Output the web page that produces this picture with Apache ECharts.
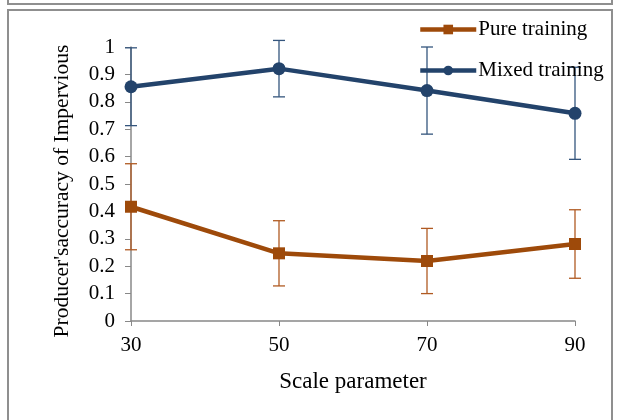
<!DOCTYPE html>
<html>
<head>
<meta charset="utf-8">
<script src="https://cdn.jsdelivr.net/npm/echarts@6/dist/echarts.min.js"></script>
<style>html,body{margin:0;padding:0;background:#fff;}#c{width:619px;height:420px;}</style>
</head>
<body>
<div id="c"></div>
<script>
const categories = ['30', '50', '70', '90'];
const pureValues = [0.417, 0.247, 0.219, 0.281];
const pureErrors = [0.157, 0.119, 0.119, 0.125];
const mixedValues = [0.855, 0.921, 0.841, 0.758];
const mixedErrors = [0.142, 0.103, 0.159, 0.168];
const yTicks = { min: 0, max: 1, interval: 0.1 };

const PURE = '#9E4A0A';
const MIXED = '#23436B';
const FONT = 'Liberation Serif';

function errData(vals, errs) {
  return vals.map((v, i) => [i, v - errs[i], v + errs[i]]);
}
function errRender(color) {
  return function (params, api) {
    const x = api.value(0);
    const lo = api.coord([x, api.value(1)]);
    const hi = api.coord([x, api.value(2)]);
    const hw = 6;
    const style = { stroke: color, lineWidth: 1.3 };
    return {
      type: 'group',
      children: [
        { type: 'line', shape: { x1: lo[0], y1: lo[1], x2: hi[0], y2: hi[1] }, style },
        { type: 'line', shape: { x1: lo[0] - hw, y1: lo[1], x2: lo[0] + hw, y2: lo[1] }, style },
        { type: 'line', shape: { x1: hi[0] - hw, y1: hi[1], x2: hi[0] + hw, y2: hi[1] }, style }
      ]
    };
  };
}

const chart = echarts.init(document.getElementById('c'));
chart.setOption({
  animation: false,
  backgroundColor: '#fff',
  graphic: [
    { type: 'rect', shape: { x: 8, y: -10, width: 604, height: 14 }, style: { fill: 'none', stroke: '#8f8f8f', lineWidth: 2 }, silent: true },
    { type: 'rect', shape: { x: 8, y: 10, width: 604, height: 420 }, style: { fill: 'none', stroke: '#8f8f8f', lineWidth: 2 }, silent: true }
  ],
  grid: { left: 131, right: 44, top: 47, bottom: 99 },
  legend: {
    orient: 'vertical',
    left: 418,
    top: 19,
    padding: 0,
    itemWidth: 56,
    itemHeight: 12,
    itemGap: 20,
    lineStyle: { width: 4.5 },
    textStyle: { fontFamily: FONT, fontSize: 21, color: '#000', padding: [0, 0, 0, -3] },
    data: ['Pure training', 'Mixed training']
  },
  xAxis: {
    type: 'category',
    data: categories,
    boundaryGap: false,
    name: 'Scale parameter',
    nameLocation: 'middle',
    nameGap: 49,
    nameTextStyle: { fontFamily: FONT, fontSize: 23, color: '#000' },
    axisLine: { lineStyle: { color: '#888', width: 1.5 } },
    axisTick: { show: true, length: 5, lineStyle: { color: '#888' }, alignWithLabel: true },
    axisLabel: { fontFamily: FONT, fontSize: 21, color: '#000', margin: 14 },
    splitLine: { show: false }
  },
  yAxis: {
    type: 'value',
    min: yTicks.min,
    max: yTicks.max,
    interval: yTicks.interval,
    name: "Producer'saccuracy of Impervious",
    nameLocation: 'middle',
    nameGap: 58,
    nameTextStyle: { fontFamily: FONT, fontSize: 21.5, color: '#000', padding: [0, 14, 0, 0] },
    axisLine: { show: true, lineStyle: { color: '#888', width: 1.5 } },
    axisTick: { show: true, length: 6, lineStyle: { color: '#888' } },
    axisLabel: { fontFamily: FONT, fontSize: 21, color: '#000', margin: 16 },
    splitLine: { show: false }
  },
  series: [
    {
      name: 'Pure training err',
      type: 'custom',
      renderItem: errRender('#B05A22'),
      data: errData(pureValues, pureErrors),
      z: 1,
      silent: true
    },
    {
      name: 'Mixed training err',
      type: 'custom',
      renderItem: errRender('#34557D'),
      data: errData(mixedValues, mixedErrors),
      z: 1,
      silent: true
    },
    {
      name: 'Pure training',
      type: 'line',
      data: pureValues,
      symbol: 'rect',
      symbolSize: 12,
      lineStyle: { color: PURE, width: 4.5 },
      itemStyle: { color: PURE },
      z: 3
    },
    {
      name: 'Mixed training',
      type: 'line',
      data: mixedValues,
      symbol: 'circle',
      symbolSize: 13,
      lineStyle: { color: MIXED, width: 4.5 },
      itemStyle: { color: MIXED },
      z: 3
    }
  ]
});
</script>
</body>
</html>
